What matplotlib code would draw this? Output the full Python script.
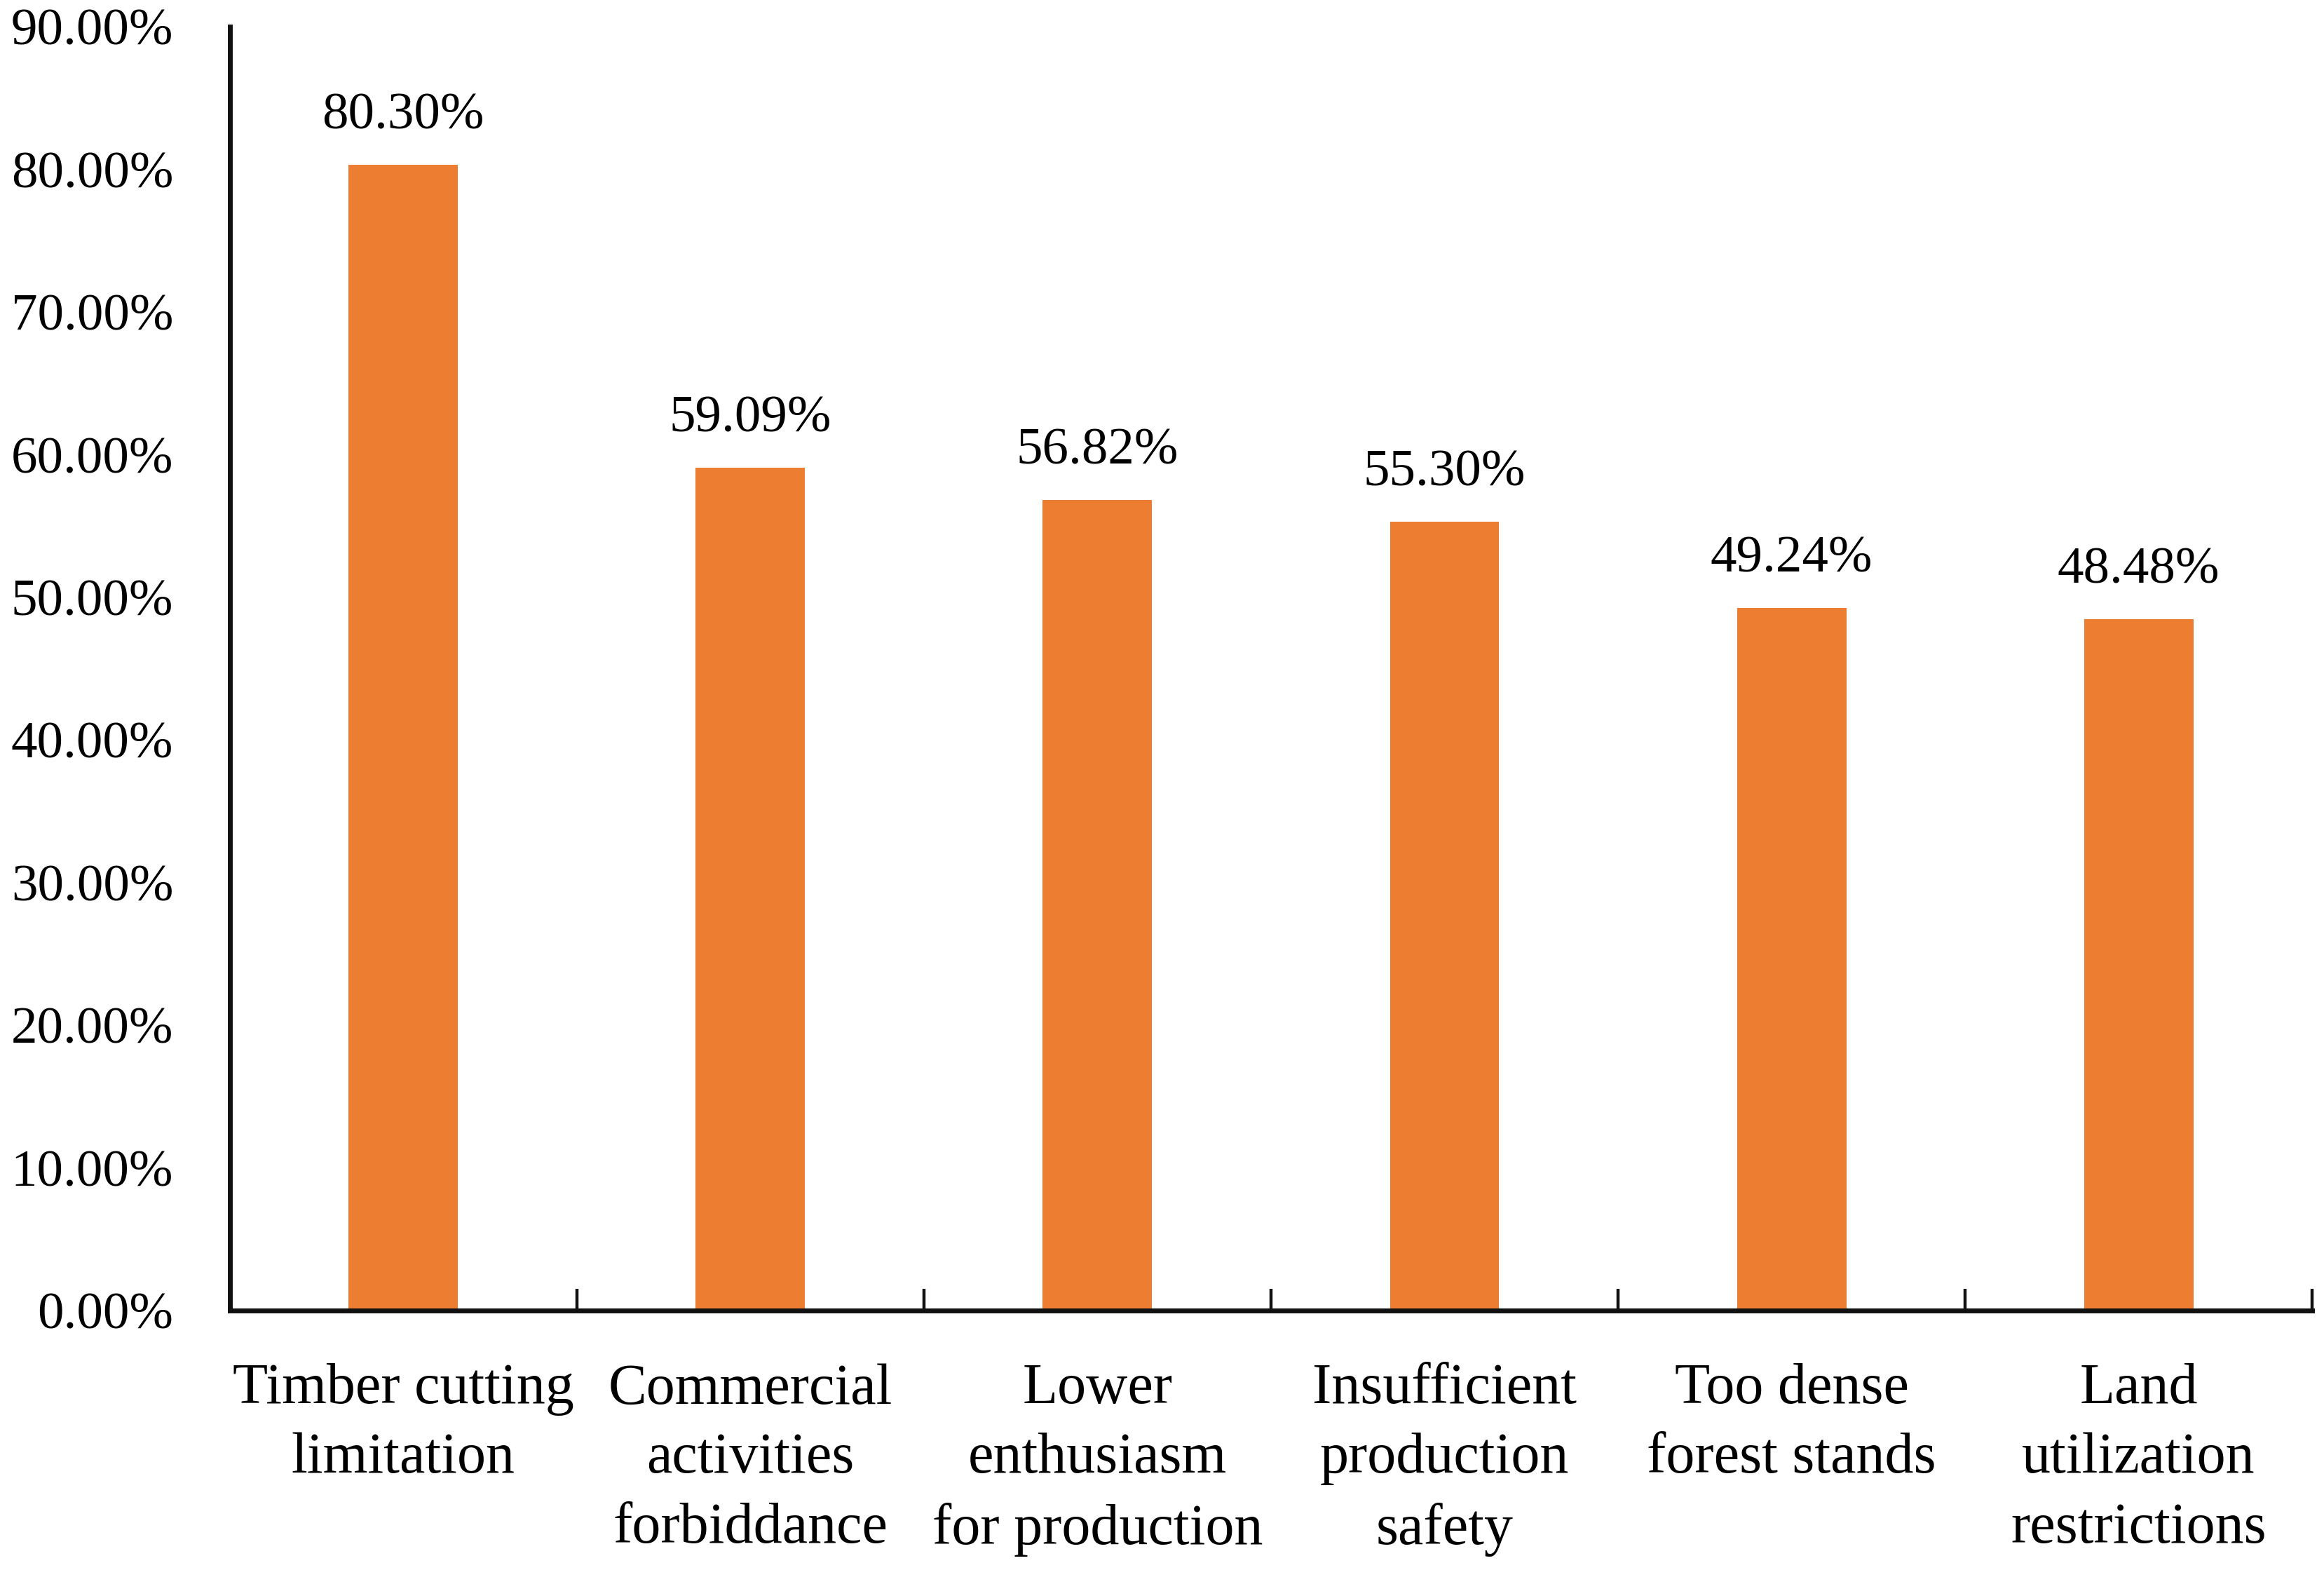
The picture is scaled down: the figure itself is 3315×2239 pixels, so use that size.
import matplotlib
matplotlib.use("Agg")
import matplotlib.pyplot as plt
from matplotlib.ticker import FixedLocator, FuncFormatter

categories = [
    "Timber cutting\nlimitation",
    "Commercial\nactivities\nforbiddance",
    "Lower\nenthusiasm\nfor production",
    "Insufficient\nproduction\nsafety",
    "Too dense\nforest stands",
    "Land\nutilization\nrestrictions",
]
values = [80.30, 59.09, 56.82, 55.30, 49.24, 48.48]
y_ticks = [0, 10, 20, 30, 40, 50, 60, 70, 80, 90]

bar_color = "#ED7D31"
plt.rcParams["font.family"] = ["Liberation Serif", "DejaVu Serif"]

fig = plt.figure(figsize=(33.15, 22.39), dpi=100)
ax = fig.add_axes([0.0989, 0.1653, 0.896, 0.8177])

x = list(range(len(categories)))
ax.bar(x, values, width=0.315, color=bar_color, zorder=2)

for xi, v in zip(x, values):
    ax.annotate(f"{v:.2f}%", xy=(xi, v), xytext=(0, 37), textcoords="offset points",
                ha="center", va="baseline", fontsize=54, color="black")

ax.set_xlim(-0.5, len(categories) - 0.5)
ax.set_ylim(0, 90)
ax.set_yticks(y_ticks)
ax.yaxis.set_major_formatter(FuncFormatter(lambda v, p: f"{v:.2f}%"))
ax.tick_params(axis="y", length=0, pad=58, labelsize=54)

ax.set_xticks(x)
ax.set_xticklabels(categories, fontsize=59, linespacing=1.41)
ax.tick_params(axis="x", which="major", length=0, pad=54)
ax.xaxis.set_minor_locator(FixedLocator([i + 0.5 for i in range(len(categories))]))
ax.tick_params(axis="x", which="minor", direction="in", length=22, width=3.2, color="#111111")

for s in ["top", "right"]:
    ax.spines[s].set_visible(False)
for s in ["left", "bottom"]:
    ax.spines[s].set_linewidth(5)
    ax.spines[s].set_color("#111111")
    ax.spines[s].set_capstyle("projecting")

fig.savefig("out.png", dpi=100, facecolor="white")
